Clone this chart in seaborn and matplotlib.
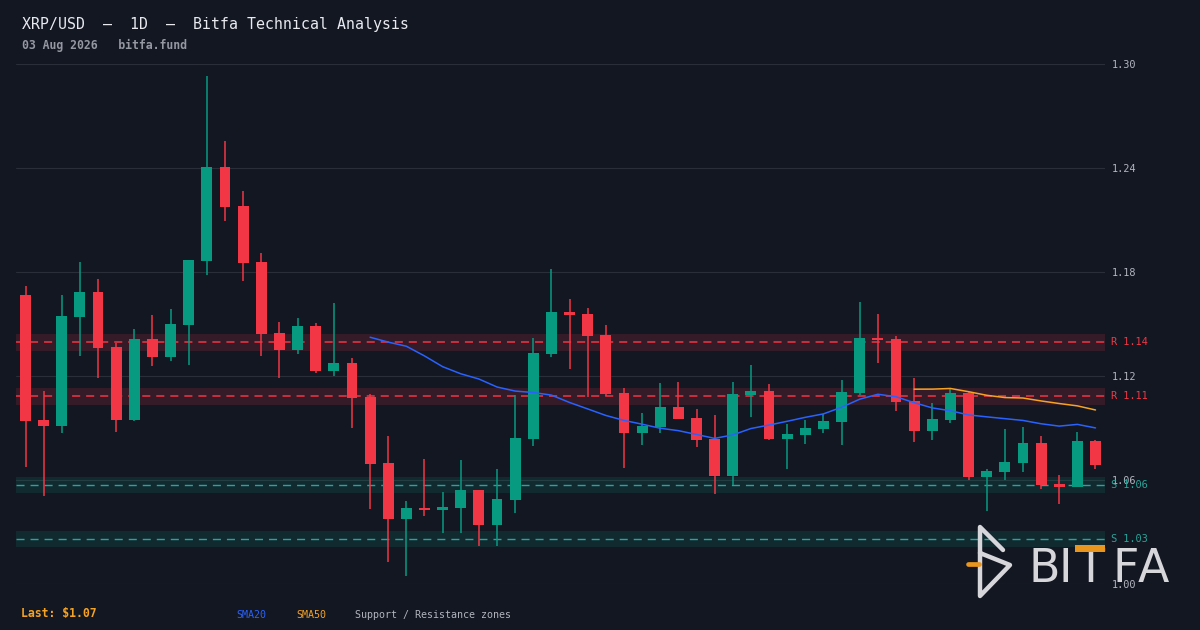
import numpy as np
import pandas as pd
import matplotlib
matplotlib.use("Agg")
import matplotlib.pyplot as plt
from matplotlib.lines import Line2D
from matplotlib.patches import Rectangle
import seaborn as sns

# ---------------- data ----------------
opens = [1.1667, 1.0946, 1.0913, 1.1540, 1.1685, 1.1367, 1.0946, 1.1413, 1.1310, 1.1494,
         1.1863, 1.2405, 1.2181, 1.1858, 1.1448, 1.1351, 1.1489, 1.1230, 1.1277, 1.1080,
         1.0698, 1.0377, 1.0438, 1.0429, 1.0440, 1.0542, 1.0342, 1.0486, 1.0838, 1.1329,
         1.1569, 1.1558, 1.1437, 1.1102, 1.0873, 1.0908, 1.1021, 1.0958, 1.0837, 1.0625,
         1.1092, 1.1113, 1.0838, 1.0861, 1.0896, 1.0936, 1.1102, 1.1419, 1.1413, 1.1056,
         1.0883, 1.0948, 1.1102, 1.0617, 1.0646, 1.0698, 1.0813, 1.0577, 1.0560, 1.0825]
closes = [1.0940, 1.0913, 1.1546, 1.1685, 1.1362, 1.0946, 1.1413, 1.1310, 1.1500, 1.1869,
          1.2405, 1.2175, 1.1852, 1.1442, 1.1351, 1.1489, 1.1230, 1.1277, 1.1074, 1.0694,
          1.0377, 1.0438, 1.0429, 1.0444, 1.0542, 1.0342, 1.0490, 1.0842, 1.1333, 1.1569,
          1.1554, 1.1432, 1.1098, 1.0873, 1.0912, 1.1021, 1.0954, 1.0833, 1.0625, 1.1096,
          1.1113, 1.0838, 1.0865, 1.0900, 1.0940, 1.1108, 1.1419, 1.1408, 1.1050, 1.0883,
          1.0952, 1.1102, 1.0617, 1.0652, 1.0704, 1.0813, 1.0571, 1.0561, 1.0825, 1.0688]
highs = [1.1719, 1.1113, 1.1667, 1.1858, 1.1760, 1.1392, 1.1471, 1.1552, 1.1587, 1.1872,
         1.2931, 1.2555, 1.2267, 1.1910, 1.1513, 1.1536, 1.1507, 1.1622, 1.1304, 1.1097,
         1.0854, 1.0479, 1.0721, 1.0531, 1.0715, 1.0542, 1.0663, 1.1090, 1.1419, 1.1817,
         1.1644, 1.1592, 1.1494, 1.1131, 1.0987, 1.1160, 1.1165, 1.1010, 1.0975, 1.1165,
         1.1263, 1.1154, 1.0925, 1.0948, 1.0981, 1.1177, 1.1627, 1.1558, 1.1431, 1.1188,
         1.1044, 1.1127, 1.1110, 1.0663, 1.0894, 1.0906, 1.0854, 1.0629, 1.0877, 1.0831]
lows = [1.0677, 1.0509, 1.0873, 1.1315, 1.1190, 1.0877, 1.0940, 1.1258, 1.1287, 1.1263,
        1.1783, 1.2095, 1.1748, 1.1315, 1.1189, 1.1328, 1.1218, 1.1201, 1.0901, 1.0435,
        1.0129, 1.0048, 1.0394, 1.0296, 1.0296, 1.0221, 1.0221, 1.0411, 1.0798, 1.1311,
        1.1242, 1.1081, 1.1085, 1.0671, 1.0804, 1.0873, 1.0954, 1.0792, 1.0521, 1.0569,
        1.0965, 1.0833, 1.0665, 1.0809, 1.0873, 1.0804, 1.1092, 1.1277, 1.1000, 1.0821,
        1.0833, 1.0931, 1.0602, 1.0423, 1.0602, 1.0646, 1.0548, 1.0462, 1.0560, 1.0663]

resistance_levels = [1.1394, 1.1083]
resistance_labels = ["R 1.14", "R 1.11"]
support_levels = [1.0571, 1.0260]
support_labels = ["S 1.06", "S 1.03"]
y_ticks = [1.00, 1.06, 1.12, 1.18, 1.24, 1.30]

title = "XRP/USD  \u2014  1D  \u2014  Bitfa Technical Analysis"
subtitle = "03 Aug 2026   bitfa.fund"

# ---------------- style ----------------
BG = "#131722"
GRID = "#2a2e39"
UP = "#089981"
DOWN = "#f23645"
BLUE = "#2962ff"
ORANGE = "#f5a225"
TXT = "#b2b5be"

sns.set_theme(style="dark", rc={
    "figure.facecolor": BG, "axes.facecolor": BG, "savefig.facecolor": BG,
    "axes.edgecolor": BG, "grid.color": GRID, "lines.scale_dashes": False,
})
plt.rcParams["font.family"] = ["DejaVu Sans Mono", "DejaVu Sans"]

W, H = 1200, 630
fig = plt.figure(figsize=(W / 100, H / 100), dpi=100)
fig.patch.set_facecolor(BG)

L, R, T, B = 16, 1105, 64, 584
ax = fig.add_axes([L / W, 1 - B / H, (R - L) / W, (B - T) / H])
ax.set_facecolor(BG)

n = len(closes)
df = pd.DataFrame({"x": np.arange(n), "open": opens, "close": closes,
                   "high": highs, "low": lows})
df["sma20"] = df["close"].rolling(20).mean()
df["sma50"] = df["close"].rolling(50).mean()
df["up"] = df["close"] >= df["open"]
colors = np.where(df["up"], UP, DOWN)

# zones
half = 0.0048
for lv, lab in zip(resistance_levels, resistance_labels):
    ax.axhspan(lv - half, lv + half, color=DOWN, alpha=0.15, lw=0, zorder=1)
    ax.axhline(lv, color=DOWN, lw=1.1, linestyle=(0, (5.8, 4.3)), zorder=1.5)
    ax.text(1 + 6 / (R - L), lv, lab, transform=ax.get_yaxis_transform(),
            color=DOWN, fontsize=7.4, va="center", ha="left", clip_on=False)
for lv, lab in zip(support_levels, support_labels):
    ax.axhspan(lv - half, lv + half, color=UP, alpha=0.15, lw=0, zorder=1)
    ax.axhline(lv, color="#26a69a", lw=1.0, linestyle=(0, (5.8, 4.3)), zorder=1.5)
    ax.text(1 + 6 / (R - L), lv, lab, transform=ax.get_yaxis_transform(),
            color="#26a69a", fontsize=7.4, va="center", ha="left", clip_on=False)

# candles
ax.vlines(df["x"], df["low"], df["high"], colors=colors, lw=1.1, zorder=3)
body_lo = np.minimum(df["open"], df["close"])
body_h = np.maximum(np.abs(df["close"] - df["open"]), 0.0012)
ax.bar(df["x"], body_h, bottom=body_lo, width=0.6, color=colors,
       edgecolor="none", zorder=4)

# moving averages
sns.lineplot(data=df, x="x", y="sma20", ax=ax, color=BLUE, lw=1.1, zorder=5)
sns.lineplot(data=df, x="x", y="sma50", ax=ax, color=ORANGE, lw=1.1, zorder=5)

# axes
ax.set_xlim(-0.524, n - 1 + 0.524)
ax.set_ylim(1.00, 1.30)
ax.set_yticks(y_ticks)
ax.set_yticklabels([f"{v:.2f}" for v in y_ticks])
ax.yaxis.tick_right()
ax.tick_params(axis="y", length=0, pad=5, labelsize=7.4, labelcolor=TXT)
ax.set_xticks([])
ax.set_xlabel("")
ax.set_ylabel("")
ax.grid(axis="y", color=GRID, lw=0.8)
ax.grid(axis="x", visible=False)
for s in ax.spines.values():
    s.set_visible(False)

# ---------------- texts ----------------
def fx(x):
    return x / W

def fy(y):
    return 1 - y / H

fig.text(fx(22), fy(24), title, color="#e8eaef", fontsize=10.7,
         va="center", ha="left")
fig.text(fx(22), fy(45), subtitle, color="#9598a1", fontsize=8.3,
         fontweight="bold", va="center", ha="left")
fig.text(fx(21), fy(613), f"Last: ${closes[-1]:.2f}", color=ORANGE,
         fontsize=8.3, fontweight="bold", va="center", ha="left")
fig.text(fx(236), fy(615), "SMA20", color=BLUE, fontsize=7.2, va="center", ha="left")
fig.text(fx(296), fy(615), "SMA50", color=ORANGE, fontsize=7.2, va="center", ha="left")
fig.text(fx(355), fy(615), "Support / Resistance zones", color=TXT,
         fontsize=7.2, va="center", ha="left")

# ---------------- logo ----------------
LOGO = "#d6d6db"
def seg(pts, color=LOGO, lw=3.2):
    xs = [fx(p[0]) for p in pts]
    ys = [fy(p[1]) for p in pts]
    fig.add_artist(Line2D(xs, ys, color=color, lw=lw, solid_capstyle="round",
                          solid_joinstyle="round", transform=fig.transFigure,
                          zorder=10))

seg([(1003, 550), (980, 527), (980, 596), (1010, 565), (980, 553)])
seg([(968, 563.5), (979, 563.5)], color="#e8961e", lw=3.4)

letter_kw = dict(color=LOGO, fontsize=33, family="DejaVu Sans",
                 va="baseline", ha="center", zorder=10)
fig.text(fx(1044), fy(582), "B", **letter_kw)
fig.text(fx(1065), fy(582), "I", **letter_kw)
fig.text(fx(1090), fy(582), "T", **letter_kw)
fig.text(fx(1126), fy(582), "F", **letter_kw)
fig.text(fx(1153), fy(582), "A", **letter_kw)
fig.add_artist(Rectangle((fx(1075), fy(552)), (1105 - 1075) / W, 7.5 / H,
                         transform=fig.transFigure, color="#e8961e", lw=0,
                         zorder=11))

fig.savefig("out.png", dpi=100, facecolor=BG)
